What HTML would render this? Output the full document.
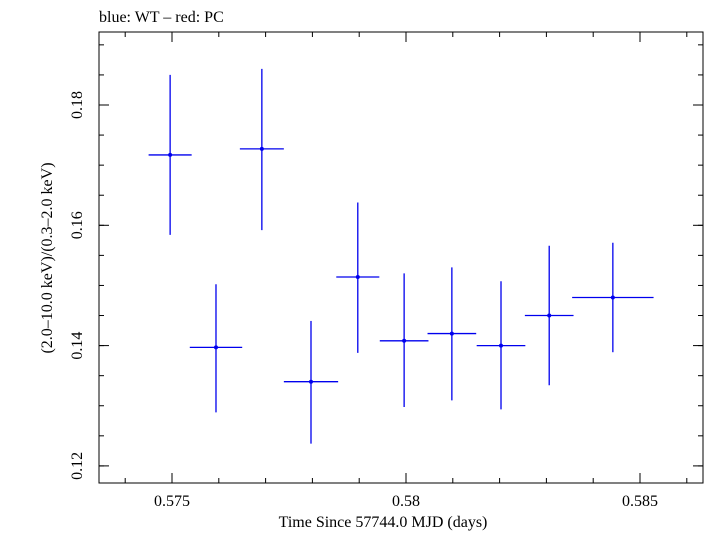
<!DOCTYPE html>
<html><head><meta charset="utf-8"><style>
body{margin:0;background:#fff}
svg text{font-family:"Liberation Serif",serif;fill:#000}
</style></head><body>
<svg id="chart" width="705" height="532" xmlns="http://www.w3.org/2000/svg">
<text x="99" y="22" font-size="16">blue: WT – red: PC</text>
<rect x="99" y="32" width="604" height="451" fill="none" stroke="#000" stroke-width="1"/>
<g id="axes"></g>
<g id="marks"></g>
<text x="383" y="527" font-size="16" text-anchor="middle">Time Since 57744.0 MJD (days)</text>
<text transform="translate(52,258) rotate(-90)" font-size="16" text-anchor="middle">(2.0–10.0 keV)/(0.3–2.0 keV)</text>
</svg>
<script>
const times=[0.57496,0.57594,0.57692,0.57797,0.57897,0.57996,0.58098,0.58203,0.58306,0.58442];
const timeErr=[0.00046,0.00056,0.00047,0.00058,0.00046,0.00052,0.00052,0.00052,0.00052,0.00087];
const ratios=[0.1717,0.1397,0.1727,0.1340,0.1514,0.1408,0.1420,0.1400,0.1450,0.1480];
const ratioHi=[0.1850,0.1502,0.1860,0.1441,0.1638,0.1520,0.1530,0.1507,0.1566,0.1571];
const ratioLo=[0.1584,0.1289,0.1592,0.1237,0.1388,0.1298,0.1309,0.1294,0.1334,0.1389];
const xTicks=[0.575,0.58,0.585];
const xTickLabels=["0.575","0.58","0.585"];
const yTicks=[0.12,0.14,0.16,0.18];
const yTickLabels=["0.12","0.14","0.16","0.18"];
const NS="http://www.w3.org/2000/svg";
const L=99,R=703,T=32,B=483;
function xs(v){return 172+(v-0.575)/0.005*234;}
function ys(v){return 105+(0.18-v)/0.02*120.3;}
function mk(tag,attrs,parent){const e=document.createElementNS(NS,tag);for(const k in attrs)e.setAttribute(k,attrs[k]);parent.appendChild(e);return e;}
const ax=document.getElementById('axes'),mg=document.getElementById('marks');
// minor x ticks
for(let v=0.573;v<=0.5885;v+=0.001){const x=xs(v);if(x<L||x>R)continue;
const t1=mk('line',{x1:x,x2:x,y1:B,y2:B-5,stroke:'#000'},ax);


const t2=mk('line',{x1:x,x2:x,y1:T,y2:T+5,stroke:'#000'},ax);

}
xTicks.forEach((v,i)=>{const x=xs(v);
const a=mk('line',{x1:x,x2:x,y1:B,y2:B-10,stroke:'#000'},ax);


const b=mk('line',{x1:x,x2:x,y1:T,y2:T+10,stroke:'#000'},ax);


const t=mk('text',{x:x,y:506,'font-size':16,'text-anchor':'middle'},ax);t.textContent=xTickLabels[i];

});
for(let v=0.115;v<=0.1925;v+=0.005){const y=ys(v);if(y<T||y>B)continue;
const t1=mk('line',{x1:L,x2:L+5,y1:y,y2:y,stroke:'#000'},ax);


const t2=mk('line',{x1:R,x2:R-5,y1:y,y2:y,stroke:'#000'},ax);

}
yTicks.forEach((v,i)=>{const y=ys(v);
const a=mk('line',{x1:L,x2:L+10,y1:y,y2:y,stroke:'#000'},ax);


const b=mk('line',{x1:R,x2:R-10,y1:y,y2:y,stroke:'#000'},ax);


const t=mk('text',{x:0,y:0,'font-size':16,'text-anchor':'middle',transform:`translate(82,${y}) rotate(-90)`},ax);t.textContent=yTickLabels[i];

});
times.forEach((t,i)=>{const x=xs(t),y=ys(ratios[i]);
const h=mk('line',{x1:xs(t-timeErr[i]),x2:xs(t+timeErr[i]),y1:y,y2:y,stroke:'#0000ee','stroke-width':1.3},mg);


const v=mk('line',{x1:x,x2:x,y1:ys(ratioHi[i]),y2:ys(ratioLo[i]),stroke:'#0000ee','stroke-width':1.3},mg);


const c=mk('circle',{cx:x,cy:y,r:2,fill:'#0000ee'},mg);

});
</script>
</body></html>
